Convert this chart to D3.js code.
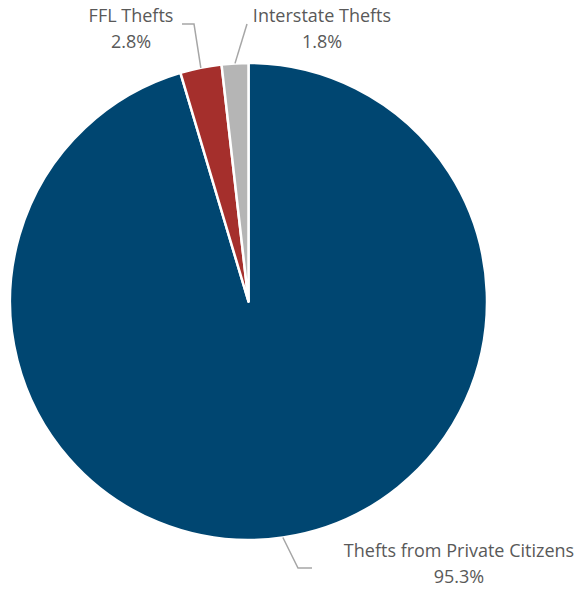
<!DOCTYPE html>
<html>
<head>
<meta charset="utf-8">
<script src="https://cdn.jsdelivr.net/npm/d3@7"></script>
<style>
  html, body { margin: 0; padding: 0; background: #fff; }
  svg { display: block; }
  text { font-family: "Liberation Sans Narrow", "Open Sans", "Liberation Sans", sans-serif; fill: #595959; }
</style>
</head>
<body>
<svg id="chart" width="580" height="590"></svg>
<script>
// Sources of stolen firearms, share of total
const categories = ["Thefts from Private Citizens", "FFL Thefts", "Interstate Thefts"];
const values = [95.3, 2.8, 1.8];
const valueLabels = ["95.3%", "2.8%", "1.8%"];
const colors = ["#004671", "#A52F2C", "#B5B5B5"];

const width = 580, height = 590;
const cx = 248.5, cy = 301.5, radius = 238.5;

// Label placement: elbow point, end of leader, and text anchor centre
const labelLayout = [
  { elbow: [298, 568], end: [312, 568], text: [459, 557] },
  { elbow: [194, 24], end: [182, 24], text: [131, 22] },
  { elbow: [247, 24], end: null, text: [322, 22] }
];

const svg = d3.select("#chart");
const g = svg.append("g").attr("transform", `translate(${cx},${cy})`);

const pie = d3.pie().sort(null).value(d => d);
const arcs = pie(values);
const arc = d3.arc().innerRadius(0).outerRadius(radius);

g.selectAll("path.slice")
  .data(arcs)
  .join("path")
  .attr("class", "slice")
  .attr("d", arc)
  .attr("fill", (d, i) => colors[i])
  .attr("stroke", "#fff")
  .attr("stroke-width", 2.5)
  .attr("stroke-linejoin", "round");

// Leader lines from slice edge midpoints to the labels
const edgeArc = d3.arc().innerRadius(radius).outerRadius(radius);
arcs.forEach((d, i) => {
  const p = edgeArc.centroid(d);
  const L = labelLayout[i];
  const pts = [[p[0] + cx, p[1] + cy], L.elbow];
  if (L.end) pts.push(L.end);
  svg.append("path")
    .attr("d", d3.line()(pts))
    .attr("fill", "none")
    .attr("stroke", "#A6A6A6")
    .attr("stroke-width", 1.5);

  const t = svg.append("text")
    .attr("x", L.text[0])
    .attr("y", L.text[1])
    .attr("text-anchor", "middle")
    .attr("font-size", 18);
  t.append("tspan").attr("x", L.text[0]).text(categories[i]);
  t.append("tspan").attr("x", L.text[0]).attr("dy", 26).text(valueLabels[i]);
});
</script>
</body>
</html>
